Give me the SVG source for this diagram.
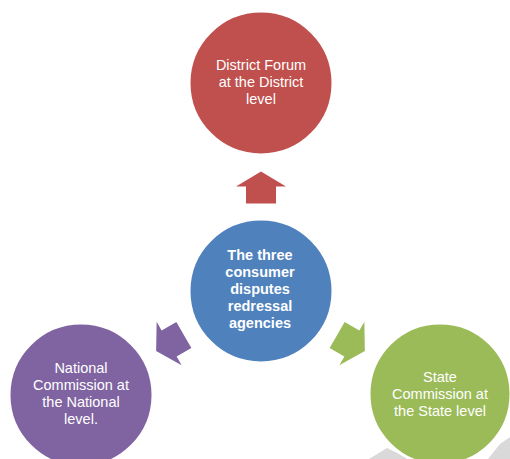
<svg xmlns="http://www.w3.org/2000/svg" width="510" height="459" viewBox="0 0 510 459">
<defs>
<style>
.lbl{font-family:"Liberation Sans",Arial,sans-serif;font-size:14.5px;fill:#ffffff;text-anchor:middle}
.b{font-weight:bold}
.node{stroke:#ffffff;stroke-width:3}
</style>
<polygon id="arr" points="0,-16 25,-1 15,-1 15,16 -15,16 -15,-1 -25,-1"/>
</defs>
<rect width="510" height="459" fill="#ffffff"/>
<g id="background">
<polygon points="369,459 387,448 410,459" fill="#d9d9d9"/>
<polygon points="488,459 500,444 510,437 510,459" fill="#d9d9d9"/>
</g>
<g id="connectors">
<use href="#arr" transform="translate(261,187.5)" fill="#c0504d"/>
<use href="#arr" transform="translate(170,343) rotate(-120)" fill="#8064a2"/>
<use href="#arr" transform="translate(351,343) rotate(120)" fill="#9bbb59"/>
</g>
<g id="district">
<circle class="node" cx="261" cy="83" r="72" fill="#c0504d"/>
<text class="lbl" x="261" y="70">District Forum</text>
<text class="lbl" x="261" y="87">at the District</text>
<text class="lbl" x="261" y="104">level</text>
</g>
<g id="center">
<circle class="node" cx="261" cy="291" r="72" fill="#4f81bd"/>
<text class="lbl b" x="260" y="260">The three</text>
<text class="lbl b" x="260" y="277">consumer</text>
<text class="lbl b" x="260" y="294">disputes</text>
<text class="lbl b" x="260" y="311">redressal</text>
<text class="lbl b" x="260" y="328">agencies</text>
</g>
<g id="national">
<circle class="node" cx="81" cy="395" r="72" fill="#8064a2"/>
<text class="lbl" x="81" y="373">National</text>
<text class="lbl" x="81" y="390">Commission at</text>
<text class="lbl" x="81" y="407">the National</text>
<text class="lbl" x="81" y="424">level.</text>
</g>
<g id="state">
<circle class="node" cx="440" cy="394" r="71" fill="#9bbb59"/>
<text class="lbl" x="440" y="382">State</text>
<text class="lbl" x="440" y="399">Commission at</text>
<text class="lbl" x="440" y="416">the State level</text>
</g>
</svg>
